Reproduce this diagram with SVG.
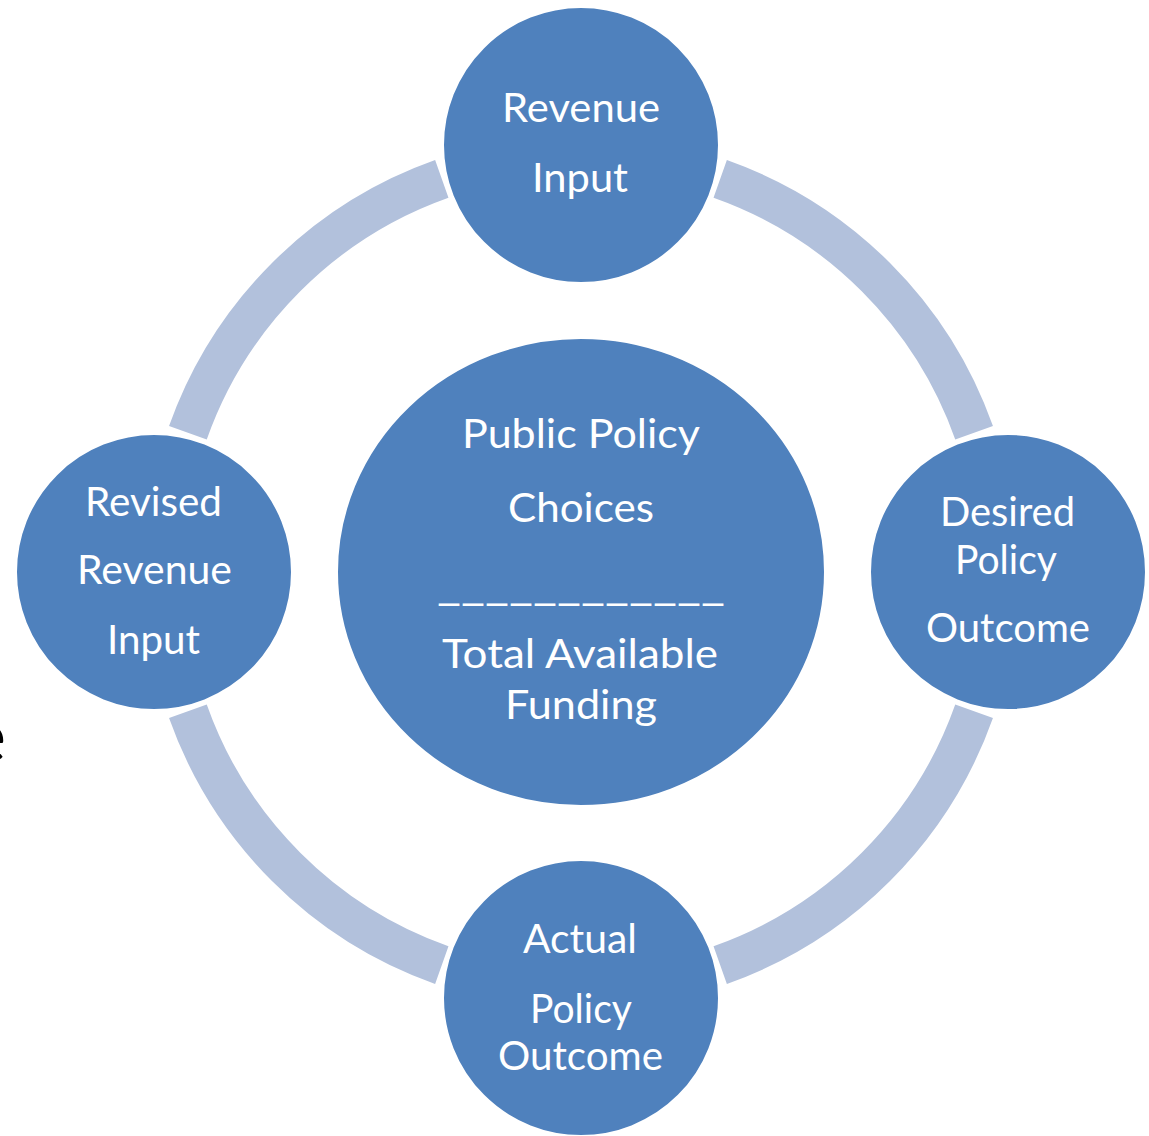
<svg xmlns="http://www.w3.org/2000/svg" width="1149" height="1136" viewBox="0 0 1149 1136">
<style>
.ring{fill:none;stroke:#b2c1dc;stroke-width:40;stroke-linecap:butt}
.node{fill:#4f81bd;stroke:#ffffff;stroke-width:2}
.lbl{fill:#ffffff;font-family:Lato,"Noto Sans","Liberation Sans",sans-serif;font-size:40px}
.frag{fill:#000000;font-family:Lato,"Noto Sans","Liberation Sans",sans-serif;font-size:74px}
</style>
<rect width="1149" height="1136" fill="#ffffff"/>
<text class="frag" x="6" y="762" text-anchor="end">e</text>
<g id="connectors">
<path class="ring" d="M720.2,178.9 A417,417 0 0 1 974.1,432.8"/>
<path class="ring" d="M974.1,711.2 A417,417 0 0 1 720.2,965.1"/>
<path class="ring" d="M441.8,965.1 A417,417 0 0 1 187.9,711.2"/>
<path class="ring" d="M187.9,432.8 A417,417 0 0 1 441.8,178.9"/>
</g>
<g id="center">
<ellipse class="node" cx="581" cy="572" rx="244" ry="234"/>
<text class="lbl" x="462" y="448" textLength="238" lengthAdjust="spacingAndGlyphs">Public Policy</text>
<text class="lbl" x="508" y="522" textLength="146" lengthAdjust="spacingAndGlyphs">Choices</text>
<text class="lbl" x="437" y="600" textLength="288" lengthAdjust="spacingAndGlyphs">____________</text>
<text class="lbl" x="442" y="668" textLength="276" lengthAdjust="spacingAndGlyphs">Total Available</text>
<text class="lbl" x="505" y="719" textLength="152" lengthAdjust="spacingAndGlyphs">Funding</text>
</g>
<g id="revenue-input">
<circle class="node" cx="581" cy="145" r="138"/>
<text class="lbl" x="502" y="122" textLength="158" lengthAdjust="spacingAndGlyphs">Revenue</text>
<text class="lbl" x="532" y="192" textLength="96" lengthAdjust="spacingAndGlyphs">Input</text>
</g>
<g id="desired-policy-outcome">
<circle class="node" cx="1008" cy="572" r="138"/>
<text class="lbl" x="940" y="526" textLength="135" lengthAdjust="spacingAndGlyphs">Desired</text>
<text class="lbl" x="955" y="574" textLength="102" lengthAdjust="spacingAndGlyphs">Policy</text>
<text class="lbl" x="926" y="642" textLength="164" lengthAdjust="spacingAndGlyphs">Outcome</text>
</g>
<g id="actual-policy-outcome">
<circle class="node" cx="581" cy="998" r="138"/>
<text class="lbl" x="523" y="953" textLength="114" lengthAdjust="spacingAndGlyphs">Actual</text>
<text class="lbl" x="530" y="1023" textLength="102" lengthAdjust="spacingAndGlyphs">Policy</text>
<text class="lbl" x="498" y="1070" textLength="165" lengthAdjust="spacingAndGlyphs">Outcome</text>
</g>
<g id="revised-revenue-input">
<circle class="node" cx="154" cy="572" r="138"/>
<text class="lbl" x="85" y="516" textLength="137" lengthAdjust="spacingAndGlyphs">Revised</text>
<text class="lbl" x="77" y="584" textLength="155" lengthAdjust="spacingAndGlyphs">Revenue</text>
<text class="lbl" x="107" y="654" textLength="93" lengthAdjust="spacingAndGlyphs">Input</text>
</g>
</svg>
